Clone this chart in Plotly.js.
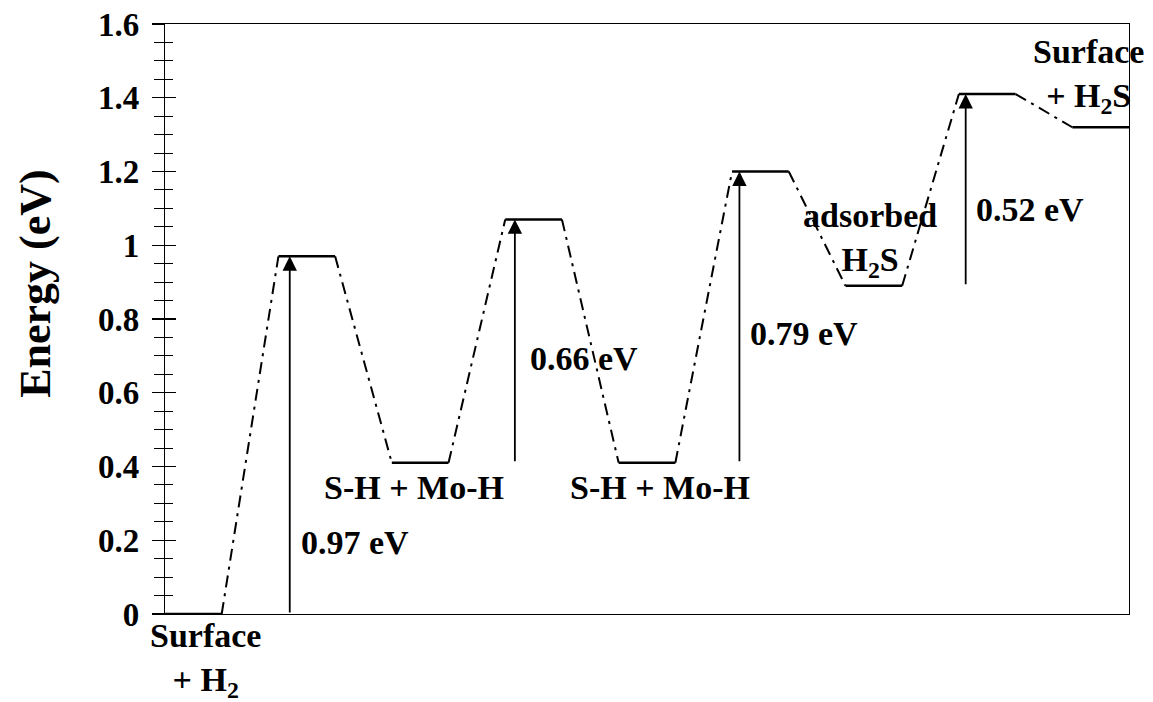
<!DOCTYPE html>
<html>
<head>
<meta charset="utf-8">
<script src="https://cdn.plot.ly/plotly-3.0.1.min.js"></script>
<style>html,body{margin:0;padding:0;background:#fff;}#chart{width:1153px;height:702px;}</style>
</head>
<body>
<div id="chart"></div>
<script>
// Energy levels along the reaction path (each state occupies one unit of reaction coordinate)
const levelEnergies = [0, 0.97, 0.41, 1.07, 0.41, 1.20, 0.89, 1.41, 1.32];
// Barrier arrows
const arrowX = [2.2, 6.17, 10.13, 14.12];
const arrowFrom = [0, 0.41, 0.41, 0.89];
const arrowTo = [0.97, 1.07, 1.20, 1.41];
// Text labels
const labelTexts = ["0.97 eV", "0.66 eV", "0.79 eV", "0.52 eV"];
const labelX = [2.36, 6.40, 10.28, 14.27];
const labelY = [0.195, 0.694, 0.762, 1.096];
const stateTexts = ["S-H + Mo-H", "S-H + Mo-H", "adsorbed<br>H<sub>2</sub>S", "Surface<br>+ H<sub>2</sub>S"];
const stateX = [4.39, 8.73, 12.43, 16.28];
const stateY = [0.342, 0.342, 1.014, 1.459];
const startText = "Surface<br>+ H<sub>2</sub>";
const startX = 0.71;

const FONT = "'Liberation Serif', 'Times New Roman', Times, serif";
const b = t => t.split('<br>').map(s => '<b>' + s + '</b>').join('<br>');

// solid level segments
const lvX = [], lvY = [];
levelEnergies.forEach((e, i) => { lvX.push(2*i, 2*i+1, null); lvY.push(e, e, null); });
// dash-dot connectors
const cnX = [], cnY = [];
for (let i = 0; i < levelEnergies.length - 1; i++) {
  cnX.push(2*i+1, 2*i+2, null); cnY.push(levelEnergies[i], levelEnergies[i+1], null);
}

const traces = [
  {x: cnX, y: cnY, mode: 'lines', line: {color: '#000', width: 2, dash: '12px,6px,3px,6px'}, hoverinfo: 'skip', connectgaps: false},
  {x: lvX, y: lvY, mode: 'lines', line: {color: '#000', width: 2.5}, hoverinfo: 'skip', connectgaps: false},
  {x: [0], y: [0], yaxis: 'y2', mode: 'lines', line: {width: 0}, hoverinfo: 'skip'}
];

const annotations = [];
arrowX.forEach((x, i) => {
  annotations.push({x: x, y: arrowTo[i], ax: x, ay: arrowFrom[i], xref: 'x', yref: 'y', axref: 'x', ayref: 'y',
    text: '', showarrow: true, arrowhead: 2, arrowsize: 1.6, arrowwidth: 1.8, arrowcolor: '#000', standoff: 0, startstandoff: 0});
});
const tf = {family: FONT, size: 34, color: '#000', weight: 700};
labelTexts.forEach((t, i) => {
  annotations.push({x: labelX[i], y: labelY[i], xref: 'x', yref: 'y', text: b(t), showarrow: false, xanchor: 'left', yanchor: 'middle', font: tf});
});
stateTexts.forEach((t, i) => {
  annotations.push({x: stateX[i], y: stateY[i], xref: 'x', yref: 'y', text: b(t), showarrow: false, xanchor: 'center', yanchor: 'middle', align: 'center', font: tf});
});
annotations.push({x: startX, y: -0.078, xref: 'x', yref: 'paper', text: b(startText), showarrow: false, xanchor: 'center', yanchor: 'middle', align: 'center', font: tf});
annotations.push({x: -0.135, y: 0.561, xref: 'paper', yref: 'paper', text: '<b>Energy (eV)</b>', textangle: -90, showarrow: false,
  xanchor: 'center', yanchor: 'middle', font: {family: FONT, size: 44, color: '#000', weight: 700}});

const layout = {
  width: 1153, height: 702,
  margin: {l: 165, r: 24, t: 24, b: 88},
  paper_bgcolor: '#fff', plot_bgcolor: '#fff',
  showlegend: false,
  font: {family: FONT, color: '#000'},
  xaxis: {range: [0, 17], showline: true, mirror: true, linecolor: '#000', linewidth: 1.2, showgrid: false, zeroline: false,
    showticklabels: false, ticks: ''},
  yaxis: {range: [0, 1.6], dtick: 0.2, showline: true, mirror: true, linecolor: '#000', linewidth: 1.2, showgrid: false, zeroline: false,
    ticks: 'outside', ticklen: 12, tickwidth: 1.2, tickcolor: '#000', ticklabelstandoff: 6,
    tickprefix: '<b>', ticksuffix: '</b>',
    tickfont: {family: FONT, size: 33, color: '#000', weight: 700},
    minor: {dtick: 0.05, ticks: 'outside', ticklen: 10, tickwidth: 1, tickcolor: '#000', showgrid: false}},
  yaxis2: {range: [0, 1.6], overlaying: 'y', side: 'left', dtick: 0.2, showline: false, showgrid: false, zeroline: false,
    showticklabels: false, ticks: 'inside', ticklen: 11, tickwidth: 1.2, tickcolor: '#000',
    minor: {dtick: 0.05, ticks: 'inside', ticklen: 8, tickwidth: 1, tickcolor: '#000', showgrid: false}},
  annotations: annotations
};

Plotly.newPlot('chart', traces, layout, {displayModeBar: false, staticPlot: true});
</script>
</body>
</html>
